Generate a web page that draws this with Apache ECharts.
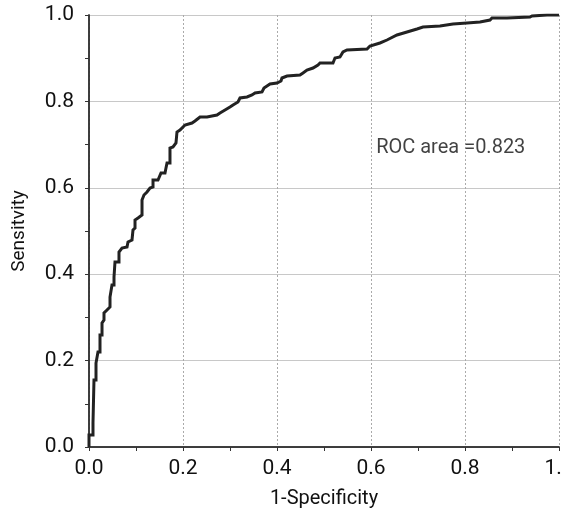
<!DOCTYPE html>
<html>
<head>
<meta charset="utf-8">
<script src="https://cdn.jsdelivr.net/npm/echarts@6/dist/echarts.min.js"></script>
<style>
html,body{margin:0;padding:0;background:#fff;}
#chart{width:562px;height:510px;}
</style>
</head>
<body>
<div id="chart"></div>
<script>
// ROC curve vertices
var fpr = [0,0,0.0085,0.0085,0.0106,0.0106,0.0149,0.0149,0.0191,0.0191,0.0234,0.0234,0.0277,0.0277,0.0319,0.0319,0.0383,0.0447,0.0447,0.0489,0.0489,0.0532,0.0532,0.0553,0.0553,0.0638,0.0638,0.0702,0.0809,0.0830,0.0915,0.0936,0.0979,0.0979,0.1043,0.1128,0.1128,0.1170,0.1234,0.1298,0.1362,0.1362,0.1468,0.1532,0.1617,0.1638,0.1660,0.1723,0.1723,0.1787,0.1851,0.1872,0.1936,0.2043,0.2085,0.2191,0.2255,0.2362,0.2511,0.2617,0.2723,0.2787,0.2894,0.3000,0.3064,0.3170,0.3213,0.3362,0.3468,0.3532,0.3681,0.3723,0.3787,0.3851,0.4000,0.4085,0.4106,0.4213,0.4489,0.4553,0.4638,0.4766,0.4872,0.4915,0.5191,0.5234,0.5340,0.5404,0.5489,0.5915,0.5979,0.6191,0.6340,0.6553,0.6766,0.6979,0.7106,0.7468,0.7745,0.8043,0.8319,0.8532,0.8574,0.8894,0.9383,0.9426,0.9745,1.0];
var tpr = [0,0.0278,0.0278,0.0556,0.0556,0.1551,0.1551,0.1944,0.1944,0.2199,0.2199,0.2593,0.2593,0.2870,0.2940,0.3102,0.3171,0.3241,0.3472,0.3472,0.3750,0.3750,0.3935,0.3935,0.4282,0.4282,0.4514,0.4606,0.4630,0.4745,0.4792,0.5023,0.5069,0.5255,0.5301,0.5370,0.5718,0.5833,0.5903,0.5995,0.6019,0.6181,0.6181,0.6343,0.6343,0.6458,0.6574,0.6574,0.6921,0.6944,0.7037,0.7292,0.7338,0.7454,0.7500,0.7500,0.7546,0.7639,0.7639,0.7662,0.7685,0.7731,0.7801,0.7870,0.7917,0.7986,0.8079,0.8102,0.8148,0.8194,0.8218,0.8310,0.8356,0.8403,0.8426,0.8472,0.8542,0.8588,0.8611,0.8657,0.8727,0.8773,0.8843,0.8889,0.8889,0.9005,0.9028,0.9144,0.9190,0.9213,0.9282,0.9352,0.9421,0.9537,0.9606,0.9676,0.9722,0.9745,0.9792,0.9815,0.9838,0.9884,0.9931,0.9931,0.9954,0.9977,1.0,1.0];
var annotationText = 'ROC area =0.823';
var annotationPos = [0.611, 0.692];
var xTitle = '1-Specificity';
var yTitle = 'Sensitvity';

var FONT = 'Roboto, "Liberation Sans", sans-serif';
var TXT = '#111';
var curve = fpr.map(function (x, i) { return [x, tpr[i]]; });

var chart = echarts.init(document.getElementById('chart'), null, {renderer: 'canvas'});
var axisLineStyle = {color: '#333', width: 1.5};
var fmt = function (v) { return v.toFixed(1); };

chart.setOption({
  animation: false,
  backgroundColor: '#fff',
  grid: {left: 89, right: 3, top: 15, bottom: 63, containLabel: false, outerBoundsMode: 'none'},
  xAxis: [{
    type: 'value', min: 0, max: 1, interval: 0.2, position: 'bottom',
    name: xTitle, nameLocation: 'middle', nameGap: 42,
    nameTextStyle: {fontFamily: FONT, fontSize: 20, color: TXT},
    axisLine: {show: true, lineStyle: axisLineStyle},
    axisTick: {show: false},
    minorTick: {show: true, splitNumber: 2, length: 4, inside: true, lineStyle: {color: '#333', width: 1}},
    axisLabel: {formatter: fmt, fontFamily: FONT, fontSize: 21, color: TXT, margin: 11},
    splitLine: {show: true, lineStyle: {color: '#aaa', type: [2, 2], width: 1}}
  }, {
    type: 'value', min: 0, max: 1, interval: 0.2, position: 'top',
    axisLine: {show: true, lineStyle: axisLineStyle},
    axisTick: {show: true, inside: true, length: 4, lineStyle: {color: '#333'}},
    minorTick: {show: true, splitNumber: 2, length: 4, inside: true, lineStyle: {color: '#333', width: 1}},
    axisLabel: {show: false},
    splitLine: {show: false}
  }],
  yAxis: [{
    type: 'value', min: 0, max: 1, interval: 0.2, position: 'left',
    name: yTitle, nameLocation: 'middle', nameGap: 60, nameRotate: 90,
    nameTextStyle: {fontFamily: FONT, fontSize: 19, color: TXT},
    axisLine: {show: true, lineStyle: axisLineStyle},
    axisTick: {show: false},
    minorTick: {show: true, splitNumber: 2, length: 4, inside: true, lineStyle: {color: '#333', width: 1}},
    axisLabel: {formatter: fmt, fontFamily: FONT, fontSize: 21, color: TXT, margin: 15, padding: [10, 0, 0, 0]},
    splitLine: {show: true, lineStyle: {color: '#c8c8c8', width: 1}}
  }, {
    type: 'value', min: 0, max: 1, interval: 0.2, position: 'right',
    axisLine: {show: true, lineStyle: axisLineStyle},
    axisTick: {show: true, inside: true, length: 4, lineStyle: {color: '#333'}},
    minorTick: {show: true, splitNumber: 2, length: 4, inside: true, lineStyle: {color: '#333', width: 1}},
    axisLabel: {show: false},
    splitLine: {show: false}
  }],
  series: [{
    type: 'line', data: curve, xAxisIndex: 0, yAxisIndex: 0,
    showSymbol: false, symbol: 'none',
    lineStyle: {color: '#222', width: 3, join: 'miter'},
    z: 5
  }, {
    type: 'scatter', data: [annotationPos], symbolSize: 0,
    label: {show: true, position: 'right', distance: 0, formatter: annotationText,
      fontFamily: FONT, fontSize: 20, color: TXT},
    z: 6
  }]
});
</script>
</body>
</html>
